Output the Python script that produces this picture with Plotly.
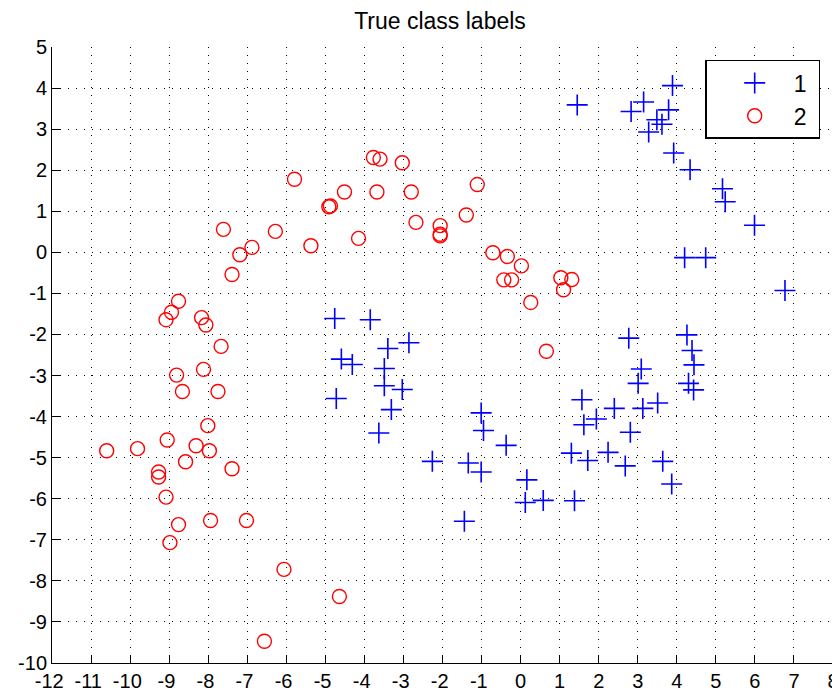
import plotly.graph_objects as go

# Class 1 (blue +)
x1 = [1.45, 3.89, 3.15, 2.83, 3.79, 3.49, 3.62, 3.28, 3.92, 4.34, 5.17, 5.24, 5.99, 4.20, 4.74, 6.77,
      -4.76, -3.85, -2.86, -3.40, -4.59, -4.31, -3.49, -3.49, -3.03, -4.72, -3.31, -3.63,
      -1.01, -0.95, -0.37, -2.26, -1.34, -1.01, 0.16, 0.12, 0.58, -1.44,
      2.77, 4.26, 4.39, 3.09, 4.44, 3.01, 4.30, 4.43, 1.57, 2.40, 3.13, 3.51, 1.94, 1.62, 2.81,
      1.30, 1.72, 2.24, 2.68, 3.64, 3.87, 1.38]
y1 = [3.59, 4.06, 3.66, 3.43, 3.47, 3.23, 3.12, 2.93, 2.42, 2.01, 1.55, 1.23, 0.66, -0.13, -0.13, -0.93,
      -1.61, -1.64, -2.20, -2.34, -2.60, -2.73, -2.83, -3.25, -3.34, -3.56, -3.83, -4.40,
      -3.91, -4.34, -4.70, -5.09, -5.13, -5.35, -5.54, -6.09, -6.04, -6.55,
      -2.09, -2.01, -2.39, -2.84, -2.74, -3.19, -3.19, -3.35, -3.59, -3.80, -3.80, -3.67, -4.06, -4.20, -4.38,
      -4.89, -5.07, -4.87, -5.20, -5.09, -5.64, -6.05]

# Class 2 (red o)
x2 = [-6.56, -4.64, -6.06, -8.98, -8.76, -7.94, -7.02, -9.08, -9.27, -9.27,
      -10.60, -9.81, -9.05, -8.58, -8.31, -7.97, -7.39, -8.01, -8.66, -7.75,
      -8.81, -8.12, -7.67, -9.08, -8.94, -8.76, -8.17, -8.06, -7.39, -7.19,
      -6.88, -7.61, -6.28, -5.79, -5.37, -4.91, -4.87, -4.51, -4.15, -3.77,
      -3.60, -3.68, -3.03, -2.80, -2.68, -2.06, -2.06, -2.06, -1.39, -1.11,
      -0.71, -0.34, 0.02, -0.43, -0.23, 0.26, 0.66, 1.03, 1.31, 1.10]
y2 = [-9.47, -8.38, -7.72, -7.07, -6.63, -6.53, -6.53, -5.96, -5.35, -5.47,
      -4.83, -4.78, -4.57, -5.10, -4.71, -4.83, -5.27, -4.22, -3.39, -3.39,
      -2.99, -2.85, -2.29, -1.64, -1.46, -1.19, -1.59, -1.77, -0.54, -0.06,
      0.12, 0.56, 0.51, 1.78, 0.16, 1.11, 1.13, 1.47, 0.34, 2.31,
      2.27, 1.47, 2.18, 1.47, 0.73, 0.65, 0.44, 0.40, 0.91, 1.65,
      -0.01, -0.10, -0.33, -0.67, -0.67, -1.22, -2.41, -0.62, -0.66, -0.91]

xticks = list(range(-12, 9))
yticks = list(range(-10, 6))
NB = "\u00a0"
# MATLAB-style labels: hyphen minus, digits centred on the tick
xticktext = [("-" + str(-v) + NB) if v < 0 else str(v) for v in xticks]
yticktext = [("-" + str(-v)) if v < 0 else str(v) for v in yticks]

FONT = "Liberation Sans, Arial, Helvetica, sans-serif"

# the page body adds an 8px margin on the left/top, so the figure is 832x687
W, H = 832, 687
OFF = 8

fig = go.Figure()
fig.add_trace(go.Scatter(
    x=x1, y=y1, mode="markers", name=NB * 3 + "1" + NB,
    marker=dict(symbol="cross-thin-open", size=15, color="#0000ff",
                line=dict(color="#0000ff", width=1.6)),
))
fig.add_trace(go.Scatter(
    x=x2, y=y2, mode="markers", name=NB * 3 + "2" + NB,
    marker=dict(symbol="circle-open", size=14, color="#ff0000",
                line=dict(color="#ff0000", width=1.4)),
))

grid = dict(showgrid=True, gridcolor="#000000", gridwidth=1, griddash="1px,7px",
            zeroline=False, showline=True, linecolor="#000000", linewidth=1,
            ticks="inside", ticklen=8, tickcolor="#000000", tickwidth=1,
            tickfont=dict(family=FONT, size=20, color="#000000"), mirror=False)

fig.update_xaxes(range=[-12, 8], tickvals=xticks, ticktext=xticktext, **grid)
fig.update_yaxes(range=[-10, 5], tickvals=yticks, ticktext=yticktext, **grid)

fig.update_layout(
    width=W, height=H,
    margin=dict(l=52 - OFF, r=6.5, t=47.3 - OFF, b=32.3, pad=0, autoexpand=False),
    paper_bgcolor="white", plot_bgcolor="white",
    title=dict(text="True class labels", x=(440 - OFF) / W, xanchor="center",
               y=1 - (21 - OFF) / H, yanchor="middle",
               font=dict(family=FONT, size=23, color="#000000")),
    legend=dict(x=0.9836, xanchor="right", y=0.979, yanchor="top",
                bgcolor="white", bordercolor="#000000", borderwidth=1.5,
                font=dict(family=FONT, size=23, color="#000000"),
                indentation=28),
    showlegend=True,
)

fig.write_html("out.html")
